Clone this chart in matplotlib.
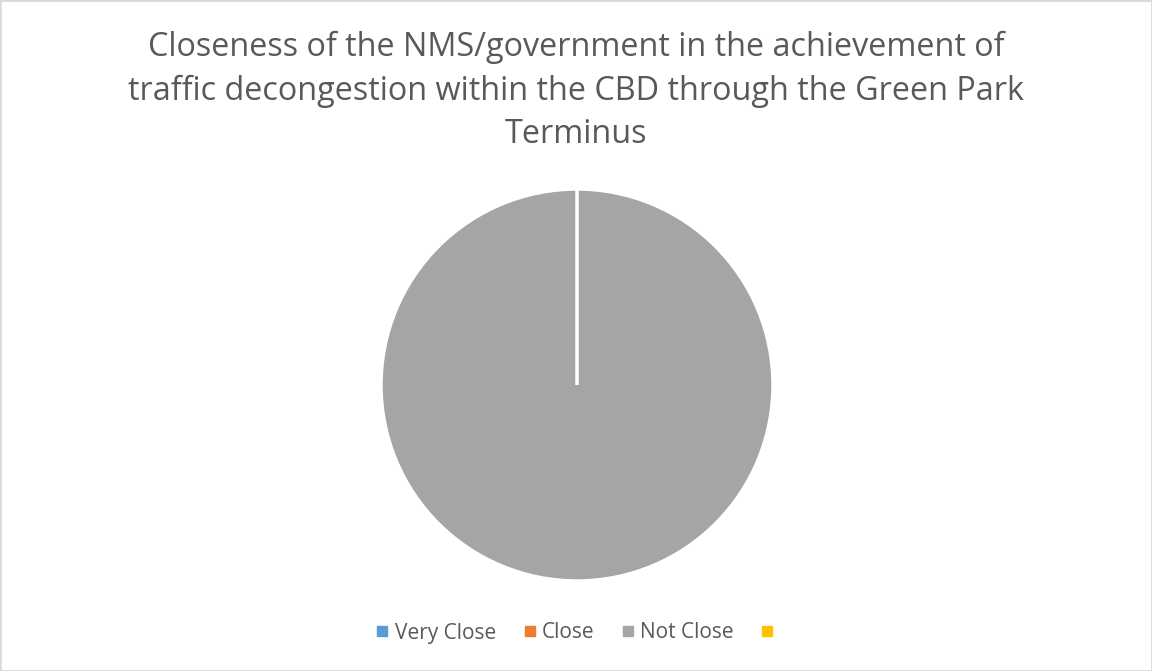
import matplotlib.pyplot as plt
from matplotlib.patches import Rectangle

plt.rcParams['font.family'] = ['Open Sans', 'DejaVu Sans']

labels = ['Very Close', 'Close', 'Not Close', '']
values = [0, 0, 100, 0]
colors = ['#5b9bd5', '#ed7d31', '#a5a5a5', '#ffc000']
title = ('Closeness of the NMS/government in the achievement of\n'
         'traffic decongestion within the CBD through the Green Park\n'
         'Terminus')

fig = plt.figure(figsize=(11.52, 6.71), dpi=100)
fig.patches.append(Rectangle((0, 0), 1, 1, transform=fig.transFigure,
                             fill=False, edgecolor='#d9d9d9', linewidth=2))

# pie area in figure coordinates
r = 196
ax = fig.add_axes([(577 - r)/1152, 1 - (385 + r)/671, 2*r/1152, 2*r/671])
wedges, _ = ax.pie(values, colors=colors, startangle=90, counterclock=False,
                   wedgeprops=dict(edgecolor='white', linewidth=2.5))
ax.set_aspect('equal')
ax.set_xlim(-1, 1)
ax.set_ylim(-1, 1)

fig.text(0.5, 1 - 91/671, title, ha='center', va='center', fontsize=23.3,
         color='#595959', linespacing=1.42)

handles = [plt.Line2D([], [], marker='s', linestyle='', markersize=7,
                      markerfacecolor=c, markeredgecolor=c) for c in colors]
fig.legend(handles, labels, loc='center', bbox_to_anchor=(0.5, 1 - 633/671),
           ncol=4, frameon=False, fontsize=15, labelcolor='#595959',
           handletextpad=0.1, columnspacing=1.1, handlelength=1.0)

fig.savefig('out.png', dpi=100)
